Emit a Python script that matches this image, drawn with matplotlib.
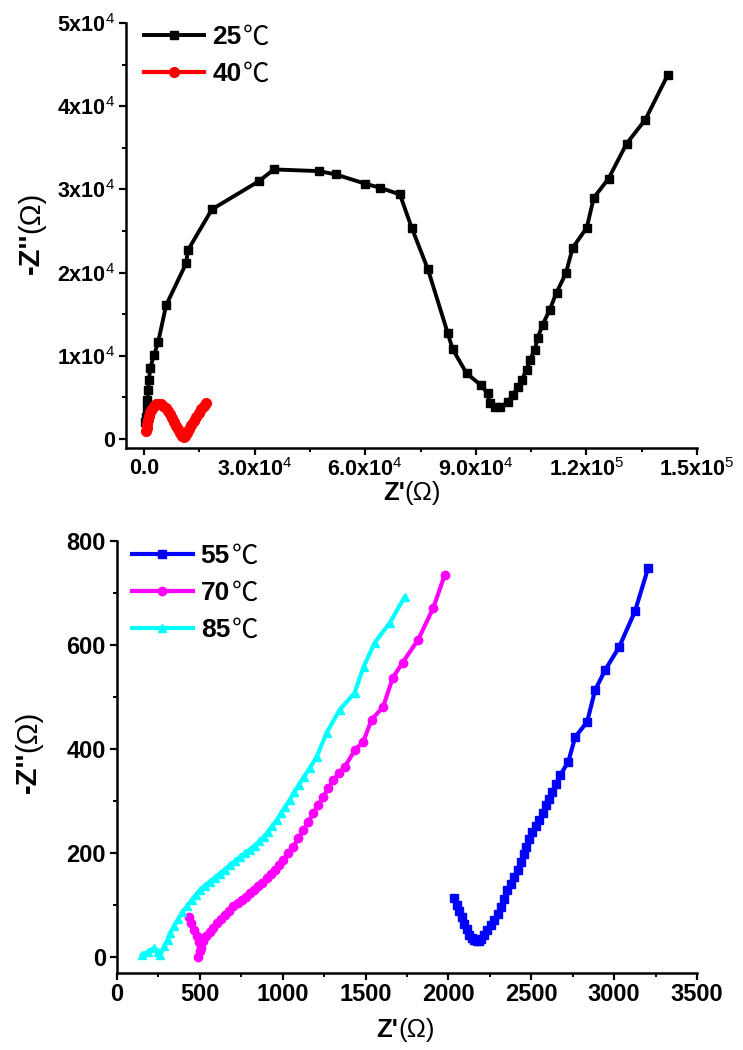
import matplotlib
matplotlib.use("Agg")
import matplotlib.pyplot as plt
from matplotlib.ticker import FixedLocator, FixedFormatter, MultipleLocator

plt.rcParams.update({
    "font.family": ["Liberation Sans", "DejaVu Sans"],
    "mathtext.fontset": "custom",
    "mathtext.rm": "Liberation Sans",
    "mathtext.default": "rm",
})

# ---- Nyquist data, low temperatures (Z' and -Z'' in ohm) ----
z25_re = [200, 400, 700, 900, 1100, 1350, 1650, 2700, 3800, 6000,
          11400, 11900, 18400, 31200, 35200, 47400, 52000, 59900, 64000, 69400,
          72600, 77000, 82400, 83700, 87500, 91300, 93200, 93800, 95100, 96500,
          98600, 100000, 101400, 102400, 103800, 104600, 106000, 106800, 108100, 110000,
          111900, 114400, 116300, 120100, 122000, 126000, 130900, 136000, 142000]
z25_im = [2000, 2700, 3600, 4700, 5900, 7100, 8500, 10100, 11600, 16100,
          21100, 22700, 27600, 31000, 32400, 32200, 31800, 30700, 30200, 29400,
          25400, 20400, 12700, 10800, 7900, 6500, 5500, 4300, 3800, 3800,
          4400, 5300, 6200, 7100, 8300, 9500, 10700, 12200, 13700, 15500,
          17600, 19900, 23000, 25400, 29000, 31300, 35500, 38400, 43700]

z40_re = [600, 700, 850, 1050, 1300, 1650, 2100, 2650, 3250, 3900,
          4550, 5200, 5850, 6450, 7050, 7600, 8150, 8700, 9250, 9750,
          10250, 10700, 11150, 11650, 12200, 12800, 13450, 14100, 14800, 15500,
          16200, 16900]
z40_im = [1000, 1350, 1800, 2300, 2800, 3250, 3650, 3950, 4150, 4250,
          4200, 4000, 3700, 3350, 2950, 2500, 2050, 1600, 1150, 750,
          400, 250, 350, 700, 1150, 1650, 2150, 2650, 3100, 3550,
          3950, 4300]

# ---- Nyquist data, high temperatures ----
z55_re = [2036, 2050, 2066, 2081, 2096, 2111, 2127, 2142, 2157, 2172,
          2187, 2199, 2215, 2235, 2255, 2277, 2298, 2319, 2337, 2355,
          2377, 2398, 2420, 2440, 2455, 2470, 2488, 2506, 2527, 2548,
          2569, 2590, 2608, 2626, 2650, 2675, 2723, 2765, 2837, 2885,
          2946, 3030, 3126, 3205]
z55_im = [113, 100, 88, 76, 64, 53, 43, 36, 32, 30,
          31, 35, 42, 52, 61, 71, 83, 96, 112, 129,
          141, 154, 168, 183, 197, 212, 226, 240, 251, 263,
          277, 292, 304, 317, 333, 350, 375, 423, 452, 513,
          552, 596, 665, 748]

z70_re = [432, 448, 465, 480, 495, 500, 490, 505, 520, 540,
          560, 580, 602, 625, 650, 675, 703, 728, 753, 778,
          803, 828, 853, 878, 904, 928, 952, 978, 1004, 1034,
          1064, 1095, 1125, 1155, 1185, 1215, 1245, 1275, 1305, 1340,
          1375, 1436, 1486, 1536, 1606, 1663, 1723, 1817, 1908, 1978]
z70_im = [77, 65, 52, 40, 28, 12, 0, 18, 30, 40,
          48, 56, 65, 73, 81, 89, 97, 103, 110, 116,
          122, 129, 136, 143, 151, 159, 168, 177, 187, 199,
          212, 228, 244, 260, 276, 292, 308, 324, 340, 353,
          366, 398, 414, 456, 481, 536, 566, 610, 671, 735]

z85_re = [150, 190, 222, 245, 262, 285, 305, 321, 345, 370,
          395, 422, 450, 478, 502, 530, 560, 590, 620, 650,
          680, 710, 740, 770, 801, 830, 858, 886, 912, 938,
          964, 990, 1016, 1042, 1070, 1098, 1127, 1165, 1205, 1265,
          1343, 1434, 1488, 1554, 1645, 1735]
z85_im = [4, 10, 17, 10, 4, 20, 33, 46, 60, 73,
          86, 97, 109, 120, 129, 137, 145, 152, 160, 168,
          176, 184, 192, 199, 206, 214, 222, 231, 241, 252,
          263, 276, 289, 302, 317, 331, 346, 364, 385, 431,
          475, 508, 558, 604, 642, 692]

# ---- tick positions and labels ----
top_xticks = [0, 30000, 60000, 90000, 120000, 150000]
top_xlabels = ["0.0", "3.0x10$^{4}$", "6.0x10$^{4}$", "9.0x10$^{4}$",
               "1.2x10$^{5}$", "1.5x10$^{5}$"]
top_yticks = [0, 10000, 20000, 30000, 40000, 50000]
top_ylabels = ["0", "1x10$^{4}$", "2x10$^{4}$", "3x10$^{4}$", "4x10$^{4}$", "5x10$^{4}$"]
bot_xticks = [0, 500, 1000, 1500, 2000, 2500, 3000, 3500]
bot_yticks = [0, 200, 400, 600, 800]

W, H = 743, 1050
fig = plt.figure(figsize=(W / 100, H / 100), dpi=100)


def style_axes(ax, tick_size):
    for s in ("top", "right"):
        ax.spines[s].set_visible(False)
    for s in ("left", "bottom"):
        ax.spines[s].set_linewidth(1.8)
    ax.tick_params(which="major", direction="out", length=5, width=1.6,
                   labelsize=tick_size, pad=3)
    ax.tick_params(axis="x", which="major", pad=2)
    ax.tick_params(which="minor", direction="out", length=3, width=1.4)
    for lab in ax.get_xticklabels() + ax.get_yticklabels():
        lab.set_fontweight("bold")


def add_labels(ax, xcoords, ycoords, xsize, ysize):
    ax.set_xlabel("Z'", fontsize=xsize, fontweight="bold", ha="right")
    ax.xaxis.set_label_coords(*xcoords)
    ax.set_ylabel("-Z''", fontsize=ysize, fontweight="bold", ha="right")
    ax.yaxis.set_label_coords(*ycoords)
    ax.annotate("(Ω)", xy=(1, 0), xycoords=ax.xaxis.label, ha="left", va="bottom",
                fontsize=xsize, zorder=10, annotation_clip=False)
    ax.annotate("(Ω)", xy=(1, 1), xycoords=ax.yaxis.label, ha="right", va="bottom",
                rotation=90, fontsize=ysize, zorder=10, annotation_clip=False)


def add_legend(ax, anchor):
    leg = ax.legend(loc="upper left", bbox_to_anchor=anchor, frameon=False,
                    borderpad=0, borderaxespad=0, handlelength=2.3,
                    handletextpad=0.3, labelspacing=0.5,
                    prop={"weight": "bold", "size": 19})
    for t in leg.get_texts():
        ax.annotate("℃", xy=(1, 0.5), xycoords=t, xytext=(1, 0),
                    textcoords="offset points", ha="left", va="center",
                    fontsize=19, family=["Noto Sans CJK SC", "DejaVu Sans"],
                    zorder=10, annotation_clip=False)


# ---- upper panel: 25 and 40 degrees ----
ax1 = fig.add_axes([126 / W, 1 - 448 / H, 571 / W, 425 / H])
ax1.plot(z25_re, z25_im, "-s", color="black", lw=2.8, ms=5.5, label="25")
ax1.plot(z40_re, z40_im, "-o", color="red", lw=3.0, ms=7, label="40")
ax1.set_xlim(-4900, 150000)
ax1.set_ylim(-1080, 50000)
ax1.xaxis.set_major_locator(FixedLocator(top_xticks))
ax1.xaxis.set_major_formatter(FixedFormatter(top_xlabels))
ax1.yaxis.set_major_locator(FixedLocator(top_yticks))
ax1.yaxis.set_major_formatter(FixedFormatter(top_ylabels))
ax1.xaxis.set_minor_locator(MultipleLocator(15000))
ax1.yaxis.set_minor_locator(MultipleLocator(5000))
style_axes(ax1, 15.5)
add_labels(ax1, (0.488, -0.078), (-0.142, 0.506), 18.5, 21)
add_legend(ax1, (0.031, 0.995))

# ---- lower panel: 55, 70 and 85 degrees ----
ax2 = fig.add_axes([117 / W, 1 - 973 / H, 580 / W, 432 / H])
ax2.plot(z55_re, z55_im, "-s", color="#0000FF", lw=3.0, ms=6, label="55")
ax2.plot(z70_re, z70_im, "-o", color="#FF00FF", lw=3.0, ms=6, label="70")
ax2.plot(z85_re, z85_im, "-^", color="#00FFFF", lw=3.0, ms=6, label="85")
ax2.set_xlim(0, 3500)
ax2.set_ylim(-31, 800)
ax2.xaxis.set_major_locator(FixedLocator(bot_xticks))
ax2.yaxis.set_major_locator(FixedLocator(bot_yticks))
ax2.xaxis.set_minor_locator(MultipleLocator(250))
ax2.yaxis.set_minor_locator(MultipleLocator(100))
style_axes(ax2, 17)
add_labels(ax2, (0.485, -0.104), (-0.129, 0.512), 18.5, 21)
add_legend(ax2, (0.026, 0.993))

fig.savefig("out.png", dpi=100)
